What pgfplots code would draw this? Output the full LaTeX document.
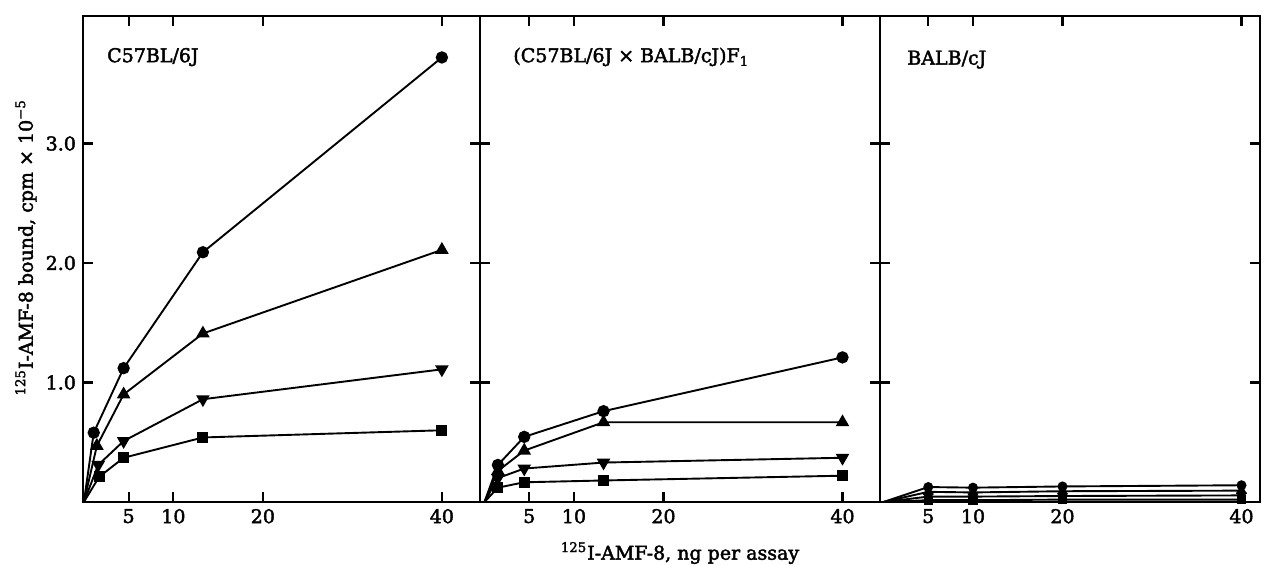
\documentclass[border=0pt]{standalone}
\usepackage{pgfplots}
\pgfplotsset{compat=1.18}
\usepackage{fontspec}
\setmainfont{DejaVu Serif}[BoldFont=DejaVu Serif, BoldFeatures={FakeBold=2.2}]

\pgfplotsset{
  panel/.style={
    scale only axis, anchor=south west,
    height=243pt, ymin=0, ymax=4.067,
    axis line style={line width=1.2pt},
    tick style={line width=1.1pt, black},
    tick align=inside, major tick length=5pt,
    xtick={5,10,20,40}, ytick={1,2,3},
    /pgf/number format/assume math mode=true,
    tick label style={font=\bfseries\fontsize{9.5}{11}\selectfont},
    yticklabel style={/pgf/number format/.cd, fixed, fixed zerofill, precision=1},
    every axis plot/.append style={black, line width=0.95pt, mark indices={2,3,4,5}},
    clip=false,
  },
  circ/.style={mark=*, mark size=2.6pt},
  tri/.style={mark=triangle*, mark size=3pt},
  dtri/.style={mark=triangle*, mark size=3pt, mark options={rotate=180}},
  sq/.style={mark=square*, mark size=2.3pt},
}
\tikzset{lab/.style={anchor=base west, inner sep=0pt, font=\bfseries\fontsize{9.5}{11}\selectfont}}

\begin{document}
\begin{tikzpicture}
\begin{axis}[panel, at={(41.5pt,31.5pt)}, width=198.5pt, xmin=-0.1, xmax=44.26,
  ylabel={\textsuperscript{125}I-AMF-8 bound, cpm × 10\textsuperscript{−5}},
  ylabel style={at={(axis description cs:-0.1436,0.524)}, anchor=center, font=\bfseries\fontsize{9.5}{11}\selectfont}]
  \addplot[circ] coordinates {(0,0) (1.1,0.58) (4.44,1.12) (13.3,2.09) (40,3.72)};
  \addplot[tri]  coordinates {(0,0) (1.45,0.47) (4.44,0.90) (13.3,1.41) (40,2.11)};
  \addplot[dtri] coordinates {(0,0) (1.6,0.31) (4.44,0.51) (13.3,0.86) (40,1.11)};
  \addplot[sq]   coordinates {(0,0) (1.7,0.21) (4.44,0.37) (13.3,0.54) (40,0.60)};
  \node[lab] at (axis description cs:0.06,0.905) {C57BL/6J};
\end{axis}

\begin{axis}[panel, at={(240pt,31.5pt)}, width=200pt, xmin=-0.5, xmax=44.19, yticklabels={},
  xlabel={\textsuperscript{125}I-AMF-8, ng per assay},
  xlabel style={at={(axis description cs:0.5,-0.105)}, anchor=center, font=\bfseries\fontsize{9.5}{11}\selectfont}]
  \addplot[circ] coordinates {(0,0) (1.5,0.31) (4.44,0.545) (13.3,0.76) (40,1.21)};
  \addplot[tri]  coordinates {(0,0) (1.5,0.26) (4.44,0.43) (13.3,0.667) (40,0.667)};
  \addplot[dtri] coordinates {(0,0) (1.5,0.20) (4.44,0.28) (13.3,0.33) (40,0.37)};
  \addplot[sq]   coordinates {(0,0) (1.5,0.12) (4.44,0.165) (13.3,0.18) (40,0.22)};
  \node[lab] at (axis description cs:0.0825,0.905) {(C57BL/6J × BALB/cJ)F\textsubscript{1}};
\end{axis}

\begin{axis}[panel, at={(440pt,31.5pt)}, width=190pt, xmin=-0.39, xmax=42.07, yticklabels={}]
  \addplot[circ, mark size=2pt] coordinates {(0,0) (5,0.125) (10,0.12) (20,0.13) (40,0.14)};
  \addplot[tri, mark size=2.2pt]  coordinates {(0,0) (5,0.085) (10,0.08) (20,0.09) (40,0.095)};
  \addplot[dtri, mark size=2.2pt] coordinates {(0,0) (5,0.045) (10,0.045) (20,0.05) (40,0.055)};
  \addplot[sq, mark size=1.8pt]   coordinates {(0,0) (5,0.015) (10,0.015) (20,0.02) (40,0.02)};
  \node[lab] at (axis description cs:0.071,0.9) {BALB/cJ};
\end{axis}

\pgfresetboundingbox
\path (0,0) rectangle (632pt,282.5pt);
\end{tikzpicture}
\end{document}
